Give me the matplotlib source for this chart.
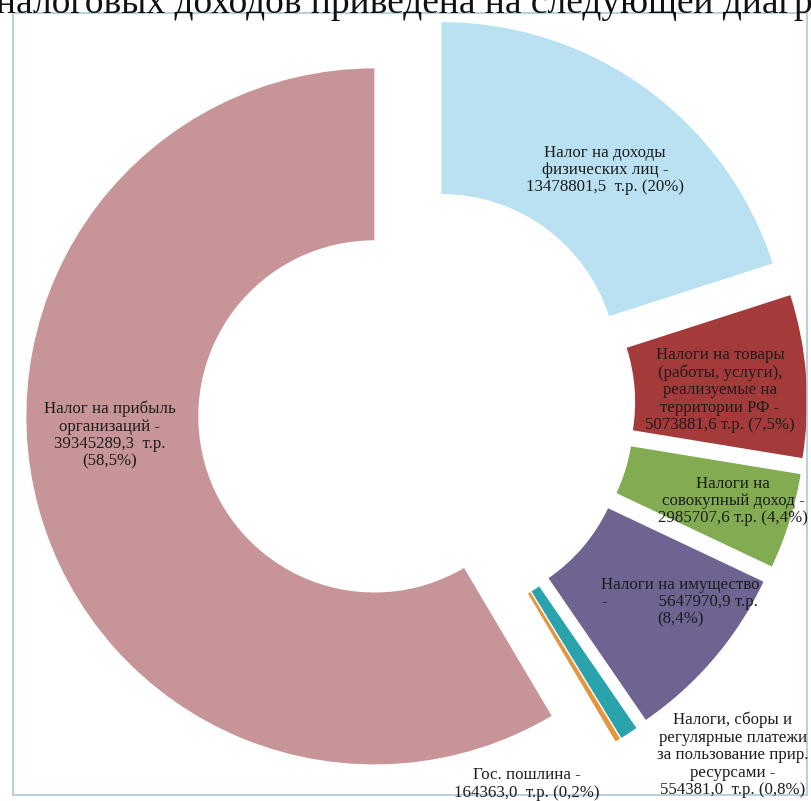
import matplotlib
matplotlib.use("Agg")
import matplotlib.pyplot as plt
from matplotlib.patches import Rectangle

# tax revenue structure, thousand rubles (clockwise from 12 o'clock)
names = [
    "Налог на доходы\nфизических лиц -\n13478801,5  т.р. (20%)",
    "Налоги на товары\n(работы, услуги),\nреализуемые на\nтерритории РФ -\n5073881,6 т.р. (7,5%)",
    "Налоги на\nсовокупный доход -\n2985707,6 т.р. (4,4%)",
    "Налоги на имущество\n-            5647970,9 т.р.\n(8,4%)",
    "Налоги, сборы и\nрегулярные платежи\nза пользование прир.\nресурсами -\n554381,0  т.р. (0,8%)",
    "Гос. пошлина -\n164363,0  т.р. (0,2%)",
    "Налог на прибыль\nорганизаций -\n39345289,3  т.р.\n(58,5%)",
]
values = [13478801.5, 5073881.6, 2985707.6, 5647970.9, 554381.0, 164363.0, 39345289.3]
colors = ["#b9e1f2", "#a53a3b", "#82ab52", "#6e6391", "#2aa3ad", "#e4963c", "#c79597"]

# label anchor points in image pixels (x, y from top)
label_xy = [(605, 170), (720, 390), (733, 501), (680, 602), (733, 755), (527, 784), (110, 435)]

W, H = 811, 801
CX, CY, R = 416, 405, 348   # donut centre and outer radius, px


def px(x, y):
    return (x - CX) / R, (CY - y) / R


fig = plt.figure(figsize=(W / 100, H / 100), dpi=100)
ax = fig.add_axes([0, 0, 1, 1])

ax.pie(values, colors=colors, startangle=90, counterclock=False,
       explode=[0.124] * len(values), radius=1.0,
       wedgeprops=dict(width=0.494, edgecolor="none"))

# pie() resets the limits, so set them afterwards
ax.set_xlim(px(0, 0)[0], px(W, 0)[0])
ax.set_ylim(px(0, H)[1], px(0, 0)[1])
ax.set_aspect("equal")
ax.axis("off")

serif = ["Liberation Serif", "DejaVu Serif"]
for txt, (x, y) in zip(names, label_xy):
    ax.text(*px(x, y), txt, ha="center", va="center", multialignment="center",
            fontsize=12.2, family=serif, color="#1c1c1c", linespacing=1.12)

# frame of the scanned figure
x0, y0 = px(13, 795)
x1, y1 = px(807, 13)
ax.add_patch(Rectangle((x0, y0), x1 - x0, y1 - y0, fill=False,
                       edgecolor="#a9c9d8", linewidth=1.2, clip_on=False))

# cut-off line of the document text above the chart
ax.text(*px(-4, 13), "налоговых доходов приведена на следующей диаграмме",
        ha="left", va="baseline", fontsize=27, family=serif, color="#111111")

fig.savefig("out.png", dpi=100)
